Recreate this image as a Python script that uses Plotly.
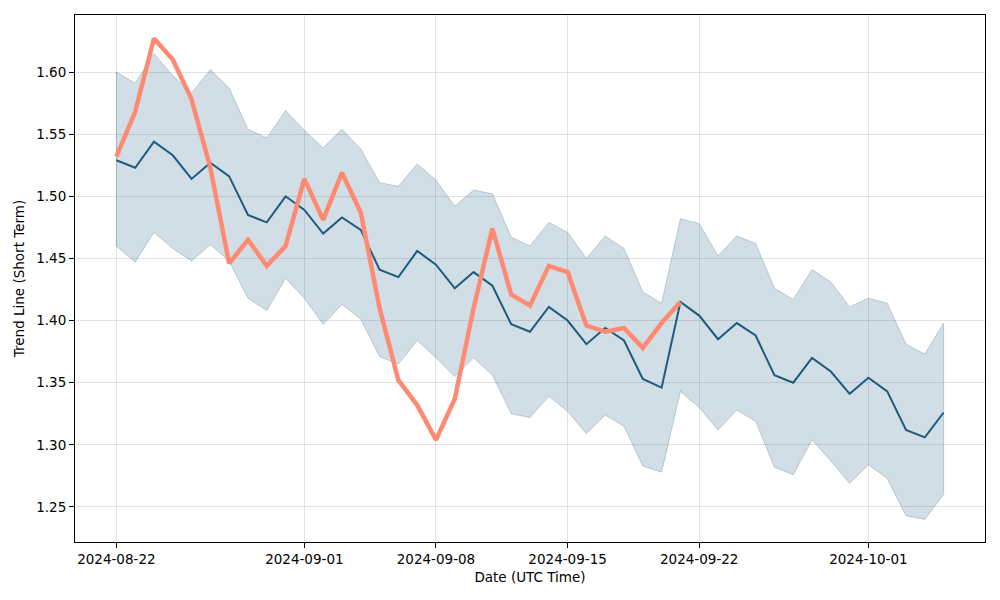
import pandas as pd
import plotly.graph_objects as go

start_date = "2024-08-22"
n_days = 45
dates = pd.date_range(start_date, periods=n_days, freq="D")

mean_vals = [1.529, 1.523, 1.544, 1.533, 1.514, 1.527, 1.516, 1.485, 1.479, 1.500,
             1.489, 1.470, 1.483, 1.473, 1.441, 1.435, 1.456, 1.445, 1.426, 1.439,
             1.428, 1.397, 1.391, 1.411, 1.400, 1.381, 1.394, 1.384, 1.353, 1.346,
             1.415, 1.404, 1.385, 1.398, 1.388, 1.356, 1.350, 1.370, 1.359, 1.341,
             1.354, 1.343, 1.312, 1.306, 1.326]

upper_vals = [1.600, 1.591, 1.615, 1.597, 1.583, 1.602, 1.587, 1.554, 1.547, 1.569,
              1.553, 1.539, 1.554, 1.538, 1.511, 1.508, 1.526, 1.513, 1.492, 1.505,
              1.502, 1.467, 1.460, 1.479, 1.471, 1.450, 1.468, 1.458, 1.423, 1.414,
              1.482, 1.478, 1.452, 1.468, 1.462, 1.426, 1.417, 1.441, 1.431, 1.411,
              1.418, 1.414, 1.381, 1.373, 1.398]

lower_vals = [1.460, 1.447, 1.471, 1.458, 1.448, 1.461, 1.448, 1.418, 1.408, 1.434,
              1.418, 1.397, 1.413, 1.401, 1.371, 1.365, 1.384, 1.370, 1.355, 1.370,
              1.356, 1.325, 1.322, 1.339, 1.327, 1.309, 1.324, 1.315, 1.283, 1.278,
              1.343, 1.330, 1.312, 1.328, 1.319, 1.282, 1.276, 1.304, 1.287, 1.269,
              1.284, 1.273, 1.243, 1.240, 1.260]

actual_vals = [1.532, 1.568, 1.627, 1.610, 1.578, 1.523, 1.446, 1.465, 1.444, 1.460,
               1.514, 1.481, 1.519, 1.487, 1.410, 1.352, 1.332, 1.304, 1.337, 1.410,
               1.474, 1.421, 1.412, 1.444, 1.439, 1.396, 1.391, 1.394, 1.378, 1.398,
               1.415]

x_ticks = ["2024-08-22", "2024-09-01", "2024-09-08", "2024-09-15", "2024-09-22", "2024-10-01"]
y_ticks = [1.25, 1.30, 1.35, 1.40, 1.45, 1.50, 1.55, 1.60]

band_color = "rgba(29,91,125,0.2)"
band_edge = "rgba(29,91,125,0.25)"
mean_color = "#1d5b7d"
actual_color = "#ff8a73"

fig = go.Figure()
fig.add_trace(go.Scatter(x=dates, y=upper_vals, mode="lines",
                         line=dict(color=band_edge, width=1), showlegend=False,
                         hoverinfo="skip"))
fig.add_trace(go.Scatter(x=dates, y=lower_vals, mode="lines",
                         line=dict(color=band_edge, width=1), fill="tonexty",
                         fillcolor=band_color, showlegend=False, hoverinfo="skip"))
fig.add_trace(go.Scatter(x=[dates[0], dates[0]], y=[lower_vals[0], upper_vals[0]], mode="lines",
                         line=dict(color=band_edge, width=1), showlegend=False))
fig.add_trace(go.Scatter(x=[dates[-1], dates[-1]], y=[lower_vals[-1], upper_vals[-1]], mode="lines",
                         line=dict(color=band_edge, width=1), showlegend=False))
fig.add_trace(go.Scatter(x=dates, y=mean_vals, mode="lines",
                         line=dict(color=mean_color, width=2), showlegend=False))
fig.add_trace(go.Scatter(x=dates[:len(actual_vals)], y=actual_vals, mode="lines",
                         line=dict(color=actual_color, width=4.5), showlegend=False))

span = dates[-1] - dates[0]
x_range = [dates[0] - span * 0.05, dates[-1] + span * 0.05]

axis_common = dict(showline=True, linecolor="black", linewidth=1, mirror=True,
                   ticks="outside", ticklen=5, tickcolor="black", automargin=False,
                   showgrid=True, gridcolor="rgba(176,176,176,0.35)", gridwidth=1,
                   zeroline=False, tickfont=dict(family="DejaVu Sans", size=13.5, color="black"))

fig.update_layout(
    width=1000, height=600,
    margin=dict(l=67, r=23, t=7, b=66),
    plot_bgcolor="white", paper_bgcolor="white",
    font=dict(family="DejaVu Sans", size=13.5, color="black"),
    xaxis=dict(range=x_range, tickvals=x_ticks, ticktext=x_ticks,
               title=dict(text="Date (UTC Time)", font=dict(size=13.5), standoff=6),
               **axis_common),
    yaxis=dict(range=[1.2218, 1.6459], tickvals=y_ticks,
               ticktext=[f"{v:.2f}" for v in y_ticks],
               title=dict(text="Trend Line (Short Term)", font=dict(size=13.5), standoff=8),
               **axis_common),
)

fig.write_html("out.html")
